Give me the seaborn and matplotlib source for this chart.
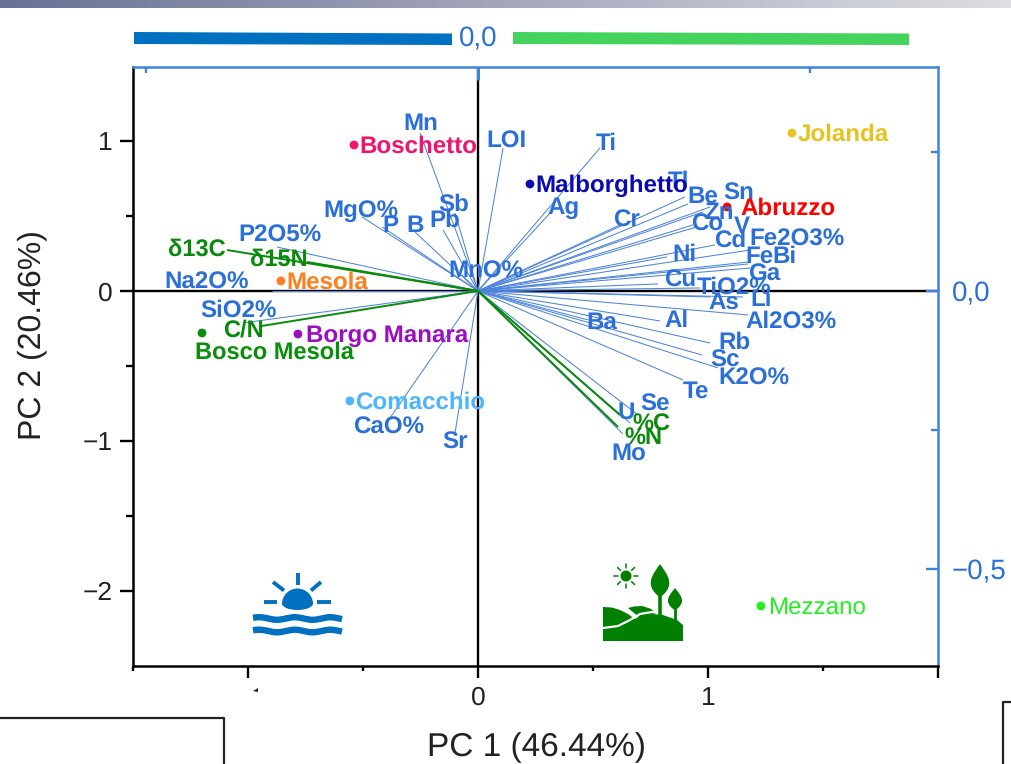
import numpy as np
import pandas as pd
import matplotlib
matplotlib.use("Agg")
import matplotlib.pyplot as plt
from matplotlib.patches import Circle, Polygon, Rectangle, Ellipse, Wedge
import seaborn as sns

# ---------- data ----------
blue_vars = ["Mn", "LOI", "Ti", "Ag", "Tl", "Be", "Sn", "Zn", "Cr", "Co", "V", "Cd", "Fe2O3%", "Ni", "Fe", "Bi",
             "Ga", "Cu", "TiO2%", "As", "Li", "Al2O3%", "Al", "Ba", "Rb", "Sc", "K2O%", "Te", "Se", "U", "Mo",
             "Sr", "CaO%", "SiO2%", "Na2O%", "P2O5%", "MgO%", "P", "B", "Pb", "Sb", "MnO%"]
blue_pc1 = [-.252, .109, .530, .326, .900, .913, 1.009, .978, .617, .935, .952, 1.030, 1.183, .822, 1.174, 1.174,
            1.183, .783, .965, 1.009, 1.152, 1.174, .791, .478, 1.009, .974, 1.043, .891, .696, .661, .630,
            -.100, -.383, -1.022, -.896, -.874, -.504, -.417, -.274, -.152, -.100, -.070]
blue_pc2 = [1.053, .953, .953, .540, .627, .580, .560, .527, .440, .440, .427, .307, .273, .227, .193, .180,
            .153, .047, .020, -.040, -.040, -.160, -.200, -.193, -.347, -.427, -.513, -.593, -.827, -.880, -.953,
            -.947, -.847, -.213, .000, .293, .493, .427, .393, .407, .520, .107]

green_vars = ["δ13C", "δ15N", "C/N", "%C", "%N"]
green_pc1 = [-1.091, -.743, -.939, .617, .609]
green_pc2 = [.273, .193, -.233, -.827, -.907]

sites = ["Boschetto", "Jolanda", "Malborghetto", "Abruzzo", "Mesola", "Borgo Manara", "Bosco Mesola", "Comacchio", "Mezzano"]
site_pc1 = [-.539, 1.365, .226, 1.083, -.857, -.783, -1.200, -.557, 1.230]
site_pc2 = [.973, 1.053, .713, .560, .067, -.287, -.280, -.733, -2.100]
site_colors = ["#F0146E", "#E8C21E", "#0A0AB4", "#FF0000", "#FF7F1E", "#9A0FC0", "#0A8F0A", "#4DB5FF", "#22EE22"]

x_ticks = [-1, 0, 1, 2]
x_tick_labels = ["\u2009", "0", "1", "\u2009"]
y_ticks = [-2, -1, 0, 1]
y_tick_labels = ["−2", "−1", "0", "1"]

# ---------- layout (pixel offsets of labels from the tips) ----------
W, H = 1011, 764
L, R, T, B = 133, 938, 67, 666
BLUE, AXBLUE, GREEN = "#2B6FD8", "#3F83DC", "#0A8A0A"
TEXT_DROP = 2

blue_off = {"Mn": (1, -11), "LOI": (3, -8), "Ti": (6, -6), "Ag": (10, -4), "Tl": (-7, -17), "Be": (15, -9), "Sn": (29, -15),
            "Zn": (16, -1), "Cr": (7, -6), "Co": (14, -2), "V": (45, -2), "Cd": (15, -6), "Fe2O3%": (47, -12), "Ni": (17, -4),
            "Fe": (11, -7), "Bi": (36, -9), "Ga": (14, 5), "Cu": (22, -5), "TiO2%": (34, -2), "As": (14, 4), "Li": (18, 1),
            "Al2O3%": (43, 5), "Al": (17, -2), "Ba": (14, 1), "Rb": (24, -2), "Sc": (23, 4), "K2O%": (36, 9), "Te": (13, 10),
            "Se": (17, -12), "U": (-4, -12), "Mo": (6, 18), "Sr": (0, 8), "CaO%": (-1, 8), "SiO2%": (-4, -14),
            "Na2O%": (-65, -10), "P2O5%": (3, -13), "MgO%": (-1, -8), "P": (8, -3), "B": (0, -8), "Pb": (2, -11), "Sb": (-1, -10),
            "MnO%": (24, -5)}
green_off = {"δ13C": (-30, -2), "δ15N": (-28, -4), "C/N": (-19, 2), "%C": (32, 8), "%N": (25, 9)}
site_off = {"Boschetto": 5, "Jolanda": 6, "Malborghetto": 5, "Abruzzo": 13, "Mesola": 6, "Borgo Manara": 8, "Comacchio": 5, "Mezzano": 7}

sns.set_theme(style="white")
plt.rcParams["font.family"] = ["Liberation Sans", "DejaVu Sans"]
plt.rcParams["text.hinting"] = "no_hinting"
fig = plt.figure(figsize=(W / 100, H / 100), dpi=100)
ax = fig.add_axes([L / W, 1 - B / H, (R - L) / W, (B - T) / H])
ax.set_xlim(-1.5, 2.0)
ax.set_ylim(-2.5, 1.493)

# ---------- loadings ----------
for x1, y1 in zip(blue_pc1, blue_pc2):
    ax.plot([0, x1], [0, y1], color="#4E85DA", lw=0.75, zorder=3, solid_capstyle="butt")
for x1, y1 in zip(green_pc1, green_pc2):
    ax.plot([0, x1], [0, y1], color=GREEN, lw=1.4, zorder=3.5, solid_capstyle="butt")
ax.axhline(0, color="black", lw=1.7, zorder=2)
ax.axvline(0, color="black", lw=1.7, zorder=2)

# ---------- samples ----------
df = pd.DataFrame({"site": sites, "PC1": site_pc1, "PC2": site_pc2})
sns.scatterplot(data=df, x="PC1", y="PC2", hue="site", palette=site_colors, s=40, linewidth=0, legend=False, ax=ax, zorder=5)

for n, x1, y1 in zip(blue_vars, blue_pc1, blue_pc2):
    dx, dy = blue_off[n]
    ax.annotate(n, (x1, y1), xytext=(dx, -dy - TEXT_DROP), textcoords="offset pixels", ha="center", va="center",
                color=BLUE, fontsize=17.4, fontweight="bold", zorder=6)
for n, x1, y1 in zip(green_vars, green_pc1, green_pc2):
    dx, dy = green_off[n]
    ax.annotate(n, (x1, y1), xytext=(dx, -dy - TEXT_DROP), textcoords="offset pixels", ha="center", va="center",
                color=GREEN, fontsize=17, fontweight="bold", zorder=6)
for n, x1, y1, c in zip(sites, site_pc1, site_pc2, site_colors):
    if n == "Bosco Mesola":
        ax.annotate(n, (x1, y1), xytext=(72, -18 - TEXT_DROP), textcoords="offset pixels", ha="center", va="center",
                    color=c, fontsize=17, fontweight="bold", zorder=6)
    else:
        ax.annotate(n, (x1, y1), xytext=(site_off[n], -TEXT_DROP), textcoords="offset pixels", ha="left", va="center",
                    color=c, fontsize=17.4, fontweight="normal" if n == "Mezzano" else "bold", zorder=6)

# ---------- axes ----------
ax.set_xticks(x_ticks, x_tick_labels)
ax.set_xticks([-1.5, -0.5, 0.5, 1.5], minor=True)
ax.set_yticks(y_ticks, y_tick_labels)
ax.set_yticks([-1.5, -0.5, 0.5], minor=True)
ax.tick_params(axis="x", which="major", direction="out", length=8.5, width=1.7, labelsize=19, pad=6, bottom=True, color="black", labelcolor="#222222")
ax.tick_params(axis="x", which="minor", direction="out", length=3.8, width=1.7, bottom=True, color="black")
ax.tick_params(axis="y", which="major", direction="out", length=9.4, width=1.7, labelsize=19, pad=5, left=True, color="black", labelcolor="#222222")
ax.tick_params(axis="y", which="minor", direction="out", length=4.8, width=1.7, left=True, color="black")
ax.set_xlabel("")
ax.set_ylabel("")
for s in ("left", "bottom"):
    ax.spines[s].set_color("black")
    ax.spines[s].set_linewidth(1.8)
for s in ("top", "right"):
    ax.spines[s].set_color(AXBLUE)
    ax.spines[s].set_linewidth(1.8)

fig.text(536 / W, 1 - 748 / H, "PC 1 (46.44%)", ha="center", va="center", fontsize=24, color="#222222")
fig.text(32 / W, 1 - 335 / H, "PC 2 (20.46%)", ha="center", va="center", rotation=90, fontsize=23, color="#222222")

# right and top loading axes
ry = ax.twinx()
ry.set_ylim(-0.674, 0.403)
ry.set_yticks([-0.5, 0.0], ["−0,5", "0,0"])
ry.set_yticks([-0.25, 0.25], minor=True)
ry.tick_params(axis="y", which="major", direction="in", length=9, width=1.7, color=AXBLUE, labelcolor=BLUE, labelsize=20, pad=10, right=True)
ry.tick_params(axis="y", which="minor", direction="in", length=5, width=1.7, color=AXBLUE, right=True)
ry.grid(False)
for s in ry.spines.values():
    s.set_visible(False)

tx = ax.twiny()
tx.set_xlim(-0.52, 0.693)
tx.set_xticks([0.0], [""])
tx.set_xticks([-0.5, 0.5], minor=True)
tx.tick_params(axis="x", which="major", direction="in", length=9, width=2.2, color=AXBLUE, top=True)
tx.tick_params(axis="x", which="minor", direction="in", length=4.5, width=1.7, color=AXBLUE, top=True)
tx.grid(False)
for s in tx.spines.values():
    s.set_visible(False)

# ---------- decorations ----------
deco = fig.add_axes([0, 0, 1, 1], zorder=10)
deco.patch.set_alpha(0)
deco.axis("off")

grad = np.linspace(0, 1, 256)[None, :, None]
c0, c1 = np.array([0x6A, 0x71, 0x95]) / 255, np.array([0xDD, 0xDE, 0xE3]) / 255
deco.imshow(c0 + (c1 - c0) * grad, extent=(0, W, 8, 0), aspect="auto", zorder=1)
deco.set_xlim(0, W)
deco.set_ylim(H, 0)

deco.add_patch(Polygon([(134, 32), (452, 33.5), (452, 45), (134, 44)], color="#0070C0", lw=0))
deco.add_patch(Polygon([(513, 32), (909, 33.5), (909, 45), (513, 44)], color="#44D35C", lw=0))
deco.text(478, 39, "0,0", ha="center", va="center", color=BLUE, fontsize=20)

deco.plot([0, 224, 224], [718, 718, 764], color="#222222", lw=1.6)
deco.plot([1011, 1003, 1003], [702, 702, 764], color="#222222", lw=1.6)
deco.add_patch(Polygon([(253, 691), (258, 688), (258, 692)], color="#222222", lw=0))

# sea icon
sea = "#0070C0"
deco.add_patch(Wedge((297.5, 604), 15.5, 180, 360, color=sea, lw=0))
deco.add_patch(Ellipse((297.5, 603.5), 31, 13, color=sea, lw=0))
for xs, ys in [([297.5, 297.5], [573, 585]), ([273, 284], [582, 590.5]), ([321, 311], [582, 590.5]),
               ([264, 277], [602, 602]), ([317, 331], [602, 602])]:
    deco.plot(xs, ys, color=sea, lw=2.8, solid_capstyle="butt")
wx = np.linspace(253, 342, 160)
for wy in (618.5, 631):
    deco.plot(wx, wy - 1.3 * np.sin((wx - 253) / 89 * 2 * np.pi * 2.5 + 0.5), color=sea, lw=4.6, solid_capstyle="butt")

# land icon
land = "#007F00"
def drop(cx, top, bottom, w):
    t = np.linspace(0, 1, 40)
    half = w / 2 * np.sin(np.pi * t ** 1.25) ** 0.8
    yy = top + (bottom - top) * t
    return np.r_[np.c_[cx - half, yy], np.c_[cx + half, yy][::-1]]

deco.add_patch(Polygon([(628, 608), (634, 606.5), (642, 606), (650, 608.5), (657, 613), (640, 618), (634, 613)], color=land, lw=0))
deco.add_patch(Polygon([(603, 607), (612, 607.5), (620, 610), (628, 614), (636, 620), (640, 628), (641, 641), (603, 641)], color=land, lw=0))
deco.add_patch(Polygon([(603, 641), (603, 630), (618, 628), (630, 622), (640, 616), (652, 614), (663, 615), (677, 620), (683, 625), (683, 641)], color=land, lw=0))
deco.plot([603, 618, 630, 640, 652, 662], [628, 626, 620, 614, 612, 612.5], color="white", lw=1.6)
deco.plot([660, 660], [590, 615], color=land, lw=2.6, solid_capstyle="butt")
deco.plot([675, 675], [600, 620], color=land, lw=2.0, solid_capstyle="butt")
deco.add_patch(Polygon(drop(660, 564, 597, 18.5), color=land, lw=0))
deco.add_patch(Polygon(drop(675, 588, 610, 14), color=land, lw=0))
deco.add_patch(Circle((626, 576), 5.5, color=land, lw=0))
for a in np.arange(0, 360, 45):
    ca, sa = np.cos(np.radians(a)), np.sin(np.radians(a))
    deco.plot([626 + 8 * ca, 626 + 12 * ca], [576 + 8 * sa, 576 + 12 * sa], color=land, lw=1.1)

fig.savefig("out.png", dpi=100)
